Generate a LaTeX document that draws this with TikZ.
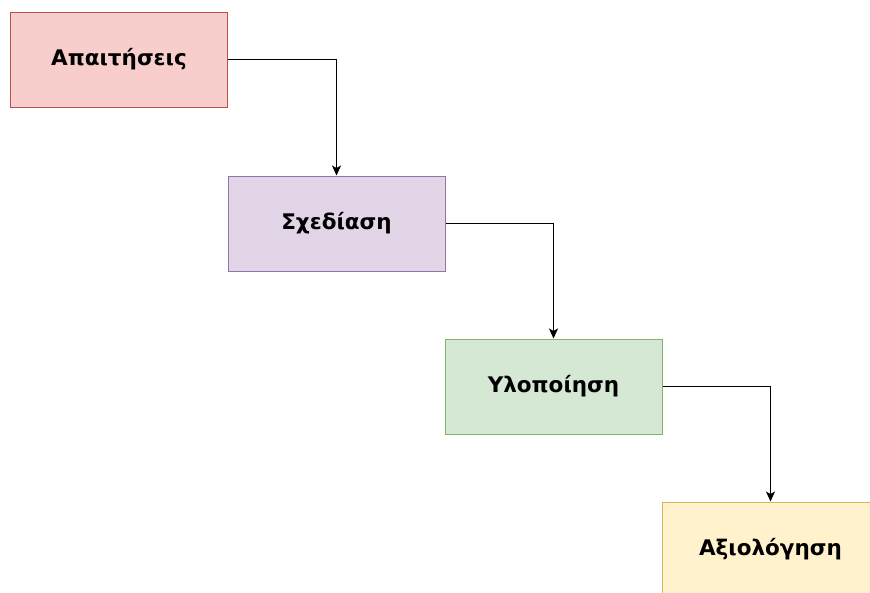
\documentclass[tikz,border=0pt]{standalone}
\usepackage{fontspec}
\setmainfont{DejaVu Sans}
\usetikzlibrary{arrows.meta}
\definecolor{redfill}{HTML}{F8CECC}\definecolor{redline}{HTML}{B85450}
\definecolor{purfill}{HTML}{E1D5E7}\definecolor{purline}{HTML}{9673A6}
\definecolor{grnfill}{HTML}{D5E8D4}\definecolor{grnline}{HTML}{82B366}
\definecolor{yelfill}{HTML}{FFF2CC}\definecolor{yelline}{HTML}{D6B656}
\tikzset{
  phase/.style={draw, line width=1pt, minimum width=217pt, minimum height=95pt,
    inner sep=0pt, font=\bfseries\fontsize{21.5}{24}\selectfont},
  flow/.style={line width=1.3pt, -{Stealth[length=10pt,width=9pt,inset=2.5pt]}}
}
\begin{document}
\begin{tikzpicture}[x=1pt,y=-1pt]
\useasboundingbox (0,0) rectangle (870,592);
\clip (0,0) rectangle (870,592);
\fill[white] (0,0) rectangle (870,592);
\node[phase, fill=redfill, draw=redline] (req) at (119,59.5) {Απαιτήσεις};
\node[phase, fill=purfill, draw=purline] (des) at (336.5,223.5) {Σχεδίαση};
\node[phase, fill=grnfill, draw=grnline] (imp) at (553.5,386.5) {Υλοποίηση};
\node[phase, fill=yelfill, draw=yelline] (eva) at (770.5,549.5) {Αξιολόγηση};
\draw[flow] (req.east) -| (des.north);
\draw[flow] (des.east) -| (imp.north);
\draw[flow] (imp.east) -| (eva.north);
\end{tikzpicture}
\end{document}
